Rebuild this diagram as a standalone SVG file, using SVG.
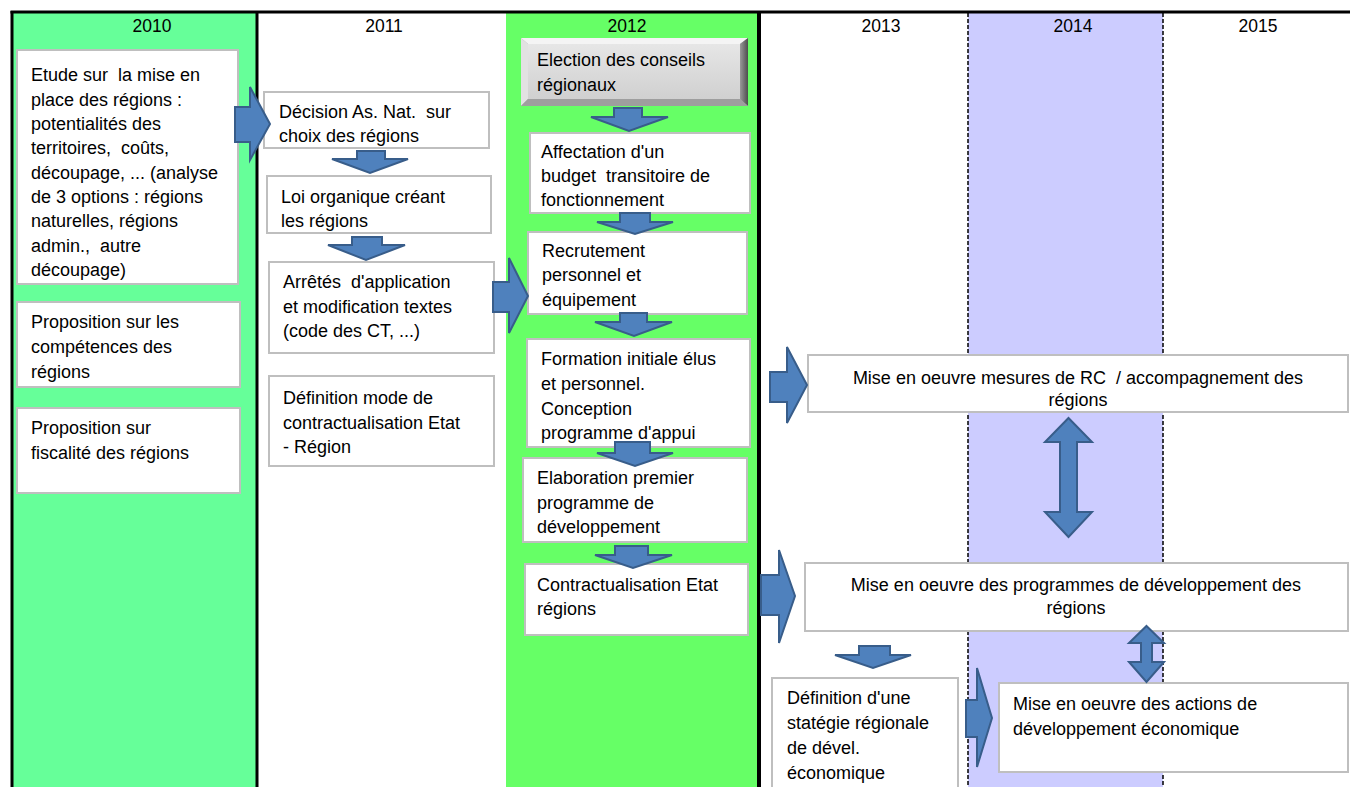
<svg xmlns="http://www.w3.org/2000/svg" width="1350" height="787" viewBox="0 0 1350 787">
<defs>
<style>
text{font-family:"Liberation Sans",Arial,sans-serif;font-size:18px;fill:#000;white-space:pre}
.yr{font-size:17.5px;text-anchor:middle}
.box{fill:#fff;stroke:#BFBFBF;stroke-width:2}
.arr{fill:#4F81BD;stroke:#385D8A;stroke-width:2;stroke-linejoin:miter}
.c{text-anchor:middle}
</style>
<linearGradient id="face" x1="0" y1="0" x2="0" y2="1">
<stop offset="0" stop-color="#E6E6E6"/><stop offset="1" stop-color="#D0D0D0"/>
</linearGradient>
<linearGradient id="rbev" x1="0" y1="0" x2="1" y2="0">
<stop offset="0" stop-color="#9A9A9A"/><stop offset="1" stop-color="#4D4D4D"/>
</linearGradient>
</defs>

<g id="columns">
<rect x="12" y="12" width="245" height="775" fill="#66FF99"/>
<rect x="506" y="12" width="253" height="775" fill="#66FF66"/>
<rect x="968" y="12" width="195" height="775" fill="#CCCCFF"/>
<line x1="10.5" y1="12" x2="1350" y2="12" stroke="#000" stroke-width="3"/>
<line x1="12" y1="11" x2="12" y2="787" stroke="#000" stroke-width="3"/>
<line x1="257" y1="11" x2="257" y2="787" stroke="#000" stroke-width="3"/>
<line x1="759" y1="11" x2="759" y2="787" stroke="#000" stroke-width="4"/>
<line x1="968" y1="13" x2="968" y2="787" stroke="#000" stroke-width="1.5" stroke-dasharray="4 2"/>
<line x1="1163" y1="13" x2="1163" y2="787" stroke="#000" stroke-width="1.5" stroke-dasharray="4 2"/>
<text class="yr" x="152" y="32">2010</text>
<text class="yr" x="384" y="32">2011</text>
<text class="yr" x="627" y="32">2012</text>
<text class="yr" x="881" y="32">2013</text>
<text class="yr" x="1073" y="32">2014</text>
<text class="yr" x="1258" y="32">2015</text>
</g>

<g id="n-etude">
<rect class="box" x="17" y="50" width="221" height="234"/>
<text x="31" y="81">Etude sur  la mise en</text>
<text x="31" y="105.5">place des régions :</text>
<text x="31" y="130">potentialités des</text>
<text x="31" y="154">territoires,  coûts,</text>
<text x="31" y="178.5">découpage, ... (analyse</text>
<text x="31" y="203">de 3 options : régions</text>
<text x="31" y="227">naturelles, régions</text>
<text x="31" y="251.5">admin.,  autre</text>
<text x="31" y="276">découpage)</text>
</g>
<g id="n-competences">
<rect class="box" x="17" y="302" width="223" height="85"/>
<text x="31" y="328">Proposition sur les</text>
<text x="31" y="353">compétences des</text>
<text x="31" y="378">régions</text>
</g>
<g id="n-fiscalite">
<rect class="box" x="17" y="408" width="223" height="85"/>
<text x="31" y="434">Proposition sur</text>
<text x="31" y="459">fiscalité des régions</text>
</g>

<g id="n-decision">
<rect class="box" x="264" y="92" width="225" height="56"/>
<text x="279" y="118">Décision As. Nat.  sur</text>
<text x="279" y="142">choix des régions</text>
</g>
<g id="n-loi">
<rect class="box" x="267" y="176" width="224" height="57"/>
<text x="281" y="203">Loi organique créant</text>
<text x="281" y="227">les régions</text>
</g>
<g id="n-arretes">
<rect class="box" x="269" y="262" width="225" height="91"/>
<text x="283" y="288">Arrêtés  d'application</text>
<text x="283" y="313">et modification textes</text>
<text x="283" y="337">(code des CT, ...)</text>
</g>
<g id="n-contract-mode">
<rect class="box" x="269" y="376" width="225" height="90"/>
<text x="283" y="404">Définition mode de</text>
<text x="283" y="429">contractualisation Etat</text>
<text x="283" y="453">- Région</text>
</g>

<g id="n-election">
<rect x="521" y="38" width="227" height="68" fill="#A8A8A8"/>
<polygon points="521,38 748,38 740,44 528,44" fill="#F4F4F4"/>
<polygon points="521,38 528,44 528,99 521,106" fill="#E2E2E2"/>
<polygon points="748,38 748,106 740,99 740,44" fill="url(#rbev)"/>
<polygon points="521,106 748,106 740,99 528,99" fill="#9E9E9E"/>
<rect x="528" y="44" width="212" height="55" fill="url(#face)"/>
<text x="537" y="66">Election des conseils</text>
<text x="537" y="91">régionaux</text>
</g>
<g id="n-affectation">
<rect class="box" x="530" y="133" width="220" height="80"/>
<text x="541" y="158">Affectation d'un</text>
<text x="541" y="182">budget  transitoire de</text>
<text x="541" y="206">fonctionnement</text>
</g>
<g id="n-recrutement">
<rect class="box" x="528" y="232" width="219" height="82"/>
<text x="542" y="257">Recrutement</text>
<text x="542" y="281">personnel et</text>
<text x="542" y="306">équipement</text>
</g>
<g id="n-formation">
<rect class="box" x="527" y="339" width="223" height="108"/>
<text x="541" y="365">Formation initiale élus</text>
<text x="541" y="390">et personnel.</text>
<text x="541" y="415">Conception</text>
<text x="541" y="439">programme d'appui</text>
</g>
<g id="n-elaboration">
<rect class="box" x="523" y="458" width="224" height="84"/>
<text x="537" y="484">Elaboration premier</text>
<text x="537" y="509">programme de</text>
<text x="537" y="533">développement</text>
</g>
<g id="n-contract">
<rect class="box" x="525" y="564" width="223" height="71"/>
<text x="537" y="591">Contractualisation Etat</text>
<text x="537" y="615">régions</text>
</g>

<g id="n-rc">
<rect class="box" x="808" y="355" width="540" height="57"/>
<text class="c" x="1078" y="384">Mise en oeuvre mesures de RC  / accompagnement des</text>
<text class="c" x="1078" y="406">régions</text>
</g>
<g id="n-programmes">
<rect class="box" x="805" y="563" width="543" height="68"/>
<text class="c" x="1076" y="591">Mise en oeuvre des programmes de développement des</text>
<text class="c" x="1076" y="614">régions</text>
</g>
<g id="n-strategie">
<rect class="box" x="772" y="678" width="186" height="112"/>
<text x="787" y="704">Définition d'une</text>
<text x="787" y="729">statégie régionale</text>
<text x="787" y="754">de dével.</text>
<text x="787" y="779">économique</text>
</g>
<g id="n-actions">
<rect class="box" x="999" y="683" width="349" height="89"/>
<text x="1013" y="710">Mise en oeuvre des actions de</text>
<text x="1013" y="735">développement économique</text>
</g>

<g id="connectors">
<polygon class="arr" points="235,107 250,107 250,87 270,124 250,160 250,142 235,142"/>
<polygon class="arr" points="357,151 385,151 385,159 408,159 370,173 332,159 357,159"/>
<polygon class="arr" points="352,237 382,237 382,245 405,245 366,260 328,245 352,245"/>
<polygon class="arr" points="493,282 509,282 509,258 528,296 509,333 509,312 493,312"/>
<polygon class="arr" points="614,108 642,108 642,117 668,117 629,131 591,117 614,117"/>
<polygon class="arr" points="620,213 650,213 650,222 673,222 635,234 597,222 620,222"/>
<polygon class="arr" points="620,313 647,313 647,322 672,322 634,336 595,322 620,322"/>
<polygon class="arr" points="615,442 650,442 650,453 673,453 635,466 597,453 615,453"/>
<polygon class="arr" points="615,546 648,546 648,555 672,555 633,568 595,555 615,555"/>
<polygon class="arr" points="770,372 787,372 787,347 807,385 787,423 787,402 770,402"/>
<polygon class="arr" points="761,575 779,575 779,550 795,596 779,643 779,615 761,615"/>
<polygon class="arr" points="1068.5,418 1092,442 1077,442 1077,512 1092,512 1068.5,537 1045,512 1060,512 1060,442 1045,442"/>
<polygon class="arr" points="859,646 890,646 890,655 911,655 873,668 835,655 859,655"/>
<polygon class="arr" points="966,700 977,700 977,668 992,718 977,767 977,737 966,737"/>
<polygon class="arr" points="1146.5,626 1164,643 1152,643 1152,662 1164,662 1146.5,682 1129,662 1141,662 1141,643 1129,643"/>
</g>
</svg>
